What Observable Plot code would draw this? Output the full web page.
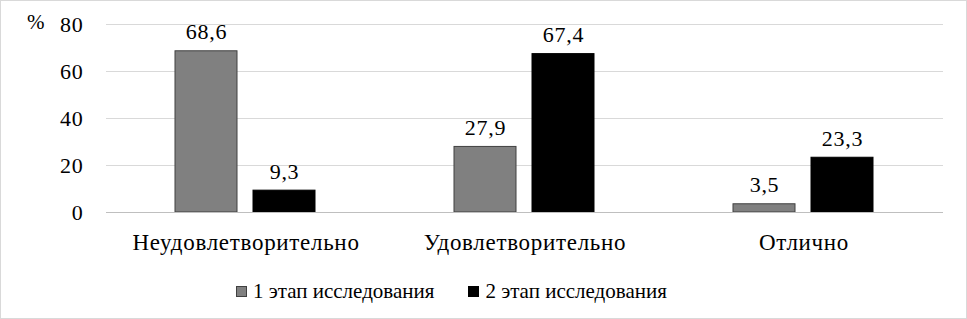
<!DOCTYPE html>
<html><head><meta charset="utf-8">
<script src="https://cdn.jsdelivr.net/npm/d3@7"></script>
<script src="https://cdn.jsdelivr.net/npm/@observablehq/plot@0.6"></script>
<style>
body{margin:0;background:#fff;}
#wrap{position:relative;width:967px;height:319px;box-sizing:border-box;border:1px solid #d9d9d9;font-family:'Liberation Serif',serif;}
#chart svg{display:block;}
#chart svg text{font-family:'Liberation Serif',serif;letter-spacing:0.7px;}
#pct{position:absolute;left:26px;top:9px;font-size:21px;}
#legend{position:absolute;left:235px;top:278px;display:flex;align-items:center;font-size:21px;color:#000;}
#legend .sw{width:11px;height:11px;margin-right:6px;box-sizing:border-box;}
#legend .item{display:flex;align-items:center;margin-right:34px;}
</style></head>
<body><div id="wrap"><div id="chart"></div><div id="pct">%</div><div id="legend"></div></div>
<script>
const categories = ["Неудовлетворительно", "Удовлетворительно", "Отлично"];
const stages = ["1 этап исследования", "2 этап исследования"];
const stage1 = [68.6, 27.9, 3.5];
const stage2 = [9.3, 67.4, 23.3];
const yTicks = [0, 20, 40, 60, 80];
const colors = ["#808080", "#000000"];

const data = [];
categories.forEach((c, i) => {
  data.push({category: c, stage: stages[0], value: stage1[i]});
  data.push({category: c, stage: stages[1], value: stage2[i]});
});
const fmt = v => String(v).replace(".", ",");

const chart = Plot.plot({
  width: 965,
  height: 262,
  marginLeft: 104,
  marginRight: 21,
  marginTop: 23,
  marginBottom: 51,
  style: {fontFamily: "'Liberation Serif',serif", fontSize: "23px", color: "#000", background: "#fff"},
  fx: {domain: categories, paddingInner: 0.4357, paddingOuter: 0.2179, label: null},
  x: {domain: stages, paddingInner: 0.2, paddingOuter: 0.1, axis: null},
  y: {domain: [0, 80], ticks: yTicks, label: null},
  color: {domain: stages, range: colors},
  marks: [
    Plot.ruleY(yTicks, {stroke: "#d9d9d9", insetLeft: -61, insetRight: -61}),
    Plot.axisY(yTicks, {tickSize: 0, tickPadding: 84, fontSize: 22, label: null}),
    Plot.axisFx({anchor: "bottom", tickSize: 0, tickPadding: 21, fontSize: 23, label: null}),
    Plot.barY(data, {fx: "category", x: "stage", y: "value", fill: "stage", stroke: d => d.stage === stages[0] ? "#404040" : "#000", strokeWidth: 1}),
    Plot.ruleY([0], {stroke: "#bfbfbf", insetLeft: -61, insetRight: -61}),
    Plot.text(data, {fx: "category", x: "stage", y: "value", text: d => fmt(d.value), lineAnchor: "bottom", dy: -12, fontSize: 22, fill: "#000"})
  ]
});
document.getElementById("chart").appendChild(chart);

const leg = document.getElementById("legend");
stages.forEach((s, i) => {
  const it = document.createElement("div");
  it.className = "item";
  const sw = document.createElement("div");
  sw.className = "sw";
  sw.style.background = colors[i];
  sw.style.border = "1px solid " + (i === 0 ? "#404040" : "#000");
  const t = document.createElement("span");
  t.textContent = s;
  it.appendChild(sw); it.appendChild(t);
  leg.appendChild(it);
});
</script></body></html>
